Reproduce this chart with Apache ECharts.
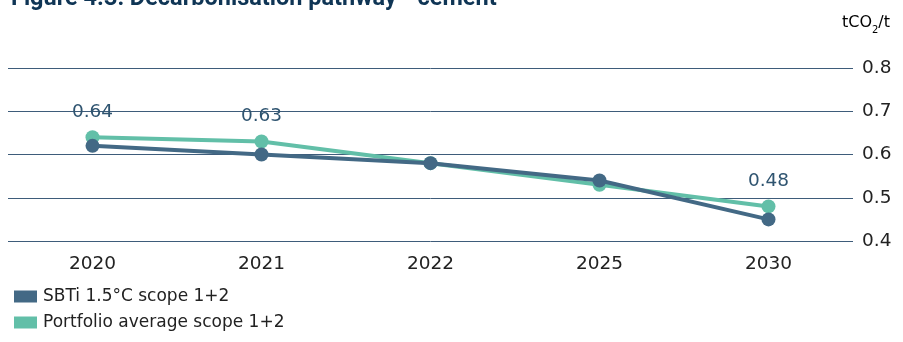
<!DOCTYPE html>
<html>
<head>
<meta charset="utf-8">
<script src="https://cdn.jsdelivr.net/npm/echarts@6/dist/echarts.min.js"></script>
<style>
  html, body { margin: 0; padding: 0; background: #fff; }
  #chart { width: 903px; height: 342px; }
</style>
</head>
<body>
<div id="chart"></div>
<script>
// Decarbonisation pathway for cement, tCO2 per tonne
const years = ['2020', '2021', '2022', '2025', '2030'];
const sbtiValues = [0.62, 0.60, 0.58, 0.54, 0.45];
const portfolioValues = [0.64, 0.63, 0.58, 0.53, 0.48];
const labelledYears = ['2020', '2021', '2030'];
const seriesNames = ['SBTi 1.5°C scope 1+2', 'Portfolio average scope 1+2'];

const FONT = '"DejaVu Sans", Roboto, sans-serif';
const TITLE_FONT = 'Roboto, "Liberation Sans", sans-serif';
const SBTI_COLOR = '#436985';
const PORTFOLIO_COLOR = '#62bfa8';

const chart = echarts.init(document.getElementById('chart'));

chart.setOption({
  animation: false,
  textStyle: { fontFamily: FONT },
  title: {
    text: 'Figure 4.3: Decarbonisation pathway - cement',
    left: 6,
    top: -18,
    textStyle: { fontFamily: TITLE_FONT, fontSize: 23.5, fontWeight: 'bold', color: '#0f3555' }
  },
  graphic: [{
    type: 'text',
    right: 13,
    top: 15,
    style: {
      text: '{a|tCO}{s|2}{a|/t}',
      rich: {
        a: { fontFamily: FONT, fontSize: 16, color: '#222', verticalAlign: 'bottom', lineHeight: 20 },
        s: { fontFamily: FONT, fontSize: 10, color: '#222', verticalAlign: 'bottom', lineHeight: 14, padding: [0, 0, -4, 0] }
      }
    }
  }],
  legend: {
    orient: 'vertical',
    left: 9,
    top: 283,
    itemWidth: 23,
    itemHeight: 12,
    itemGap: 9,
    icon: 'rect',
    data: seriesNames,
    textStyle: { fontFamily: FONT, fontSize: 17, color: '#222', padding: [0, 0, 0, 1] }
  },
  grid: { left: 8, right: 50, top: 68, bottom: 101, containLabel: false },
  xAxis: {
    type: 'category',
    data: years,
    boundaryGap: true,
    axisLine: { show: false },
    axisTick: { show: false },
    axisLabel: { fontFamily: FONT, fontSize: 18.5, color: '#222', margin: 14 }
  },
  yAxis: {
    type: 'value',
    position: 'right',
    min: 0.4,
    max: 0.8,
    interval: 0.1,
    axisLine: { show: false },
    axisTick: { show: false },
    splitLine: { lineStyle: { color: '#3e5c7a', width: 1 } },
    axisLabel: {
      fontFamily: FONT, fontSize: 18.5, color: '#222', margin: 9,
      verticalAlign: 'middle', padding: [0, 0, 10, 0],
      formatter: v => v.toFixed(1)
    }
  },
  series: [
    {
      name: seriesNames[1],
      type: 'line',
      data: portfolioValues,
      z: 2,
      color: PORTFOLIO_COLOR,
      symbol: 'circle',
      symbolSize: 14,
      lineStyle: { width: 4, color: PORTFOLIO_COLOR },
      itemStyle: { color: PORTFOLIO_COLOR },
      label: {
        show: true,
        position: 'top',
        distance: 9,
        fontFamily: FONT,
        fontSize: 18.5,
        color: '#2f5470',
        formatter: p => labelledYears.includes(p.name) ? p.value.toFixed(2) : ''
      }
    },
    {
      name: seriesNames[0],
      type: 'line',
      data: sbtiValues,
      z: 3,
      color: SBTI_COLOR,
      symbol: 'circle',
      symbolSize: 14,
      lineStyle: { width: 4, color: SBTI_COLOR },
      itemStyle: { color: SBTI_COLOR }
    }
  ]
});
</script>
</body>
</html>
